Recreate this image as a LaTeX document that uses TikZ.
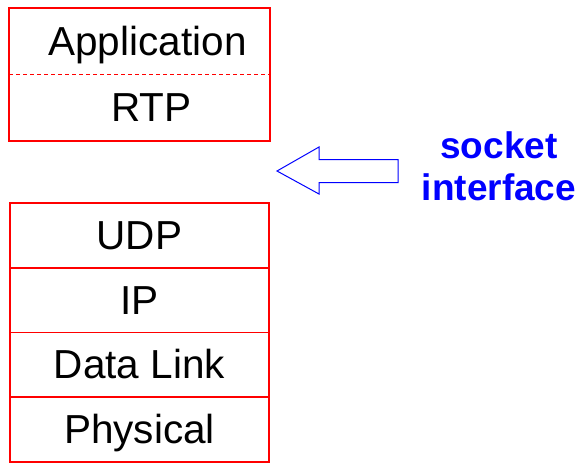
\documentclass[tikz,border=0pt]{standalone}
\usepackage{fontspec}
\setmainfont{Liberation Sans}
\usetikzlibrary{positioning}
\tikzset{
  layer/.style={minimum width=259pt, minimum height=64.75pt, inner sep=0pt,
    text height=28pt, text depth=0pt, font=\fontsize{40.5}{42}\selectfont},
  iface/.style={align=center, text=blue, inner sep=0pt,
    font=\fontsize{37}{42}\selectfont\bfseries}
}
\begin{document}
\begin{tikzpicture}[x=1pt,y=-1pt,line width=1.6pt]
\useasboundingbox (0,0) rectangle (581,464);
% upper part
\node[layer] (app) at (139.5,41.4) {\hspace{16pt}Application};
\node[layer, below=0pt of app] (rtp) {\hspace{24pt}RTP};
\draw[red, line width=1.6pt] (app.north west) rectangle (rtp.south east);
\draw[red, line width=1pt, dash pattern=on 4pt off 3pt] (app.south west) -- (app.south east);

% lower part
\foreach \n/\t [count=\i] in {udp/UDP,ip/IP,dl/Data Link,phy/Physical}
{
    \node[layer, draw=red, line width=1.6pt] (\n) at (139.5,170.6+64.75*\i) {\t};
}

% socket arrow
\draw[blue, line width=1pt] (277,171) -- (319,147) -- (319,159.5) -- (398,159.5)
    -- (398,182.5) -- (319,182.5) -- (319,194) -- cycle;
\node[iface] (sock) at (499,166) {socket\\interface};
\end{tikzpicture}
\end{document}
